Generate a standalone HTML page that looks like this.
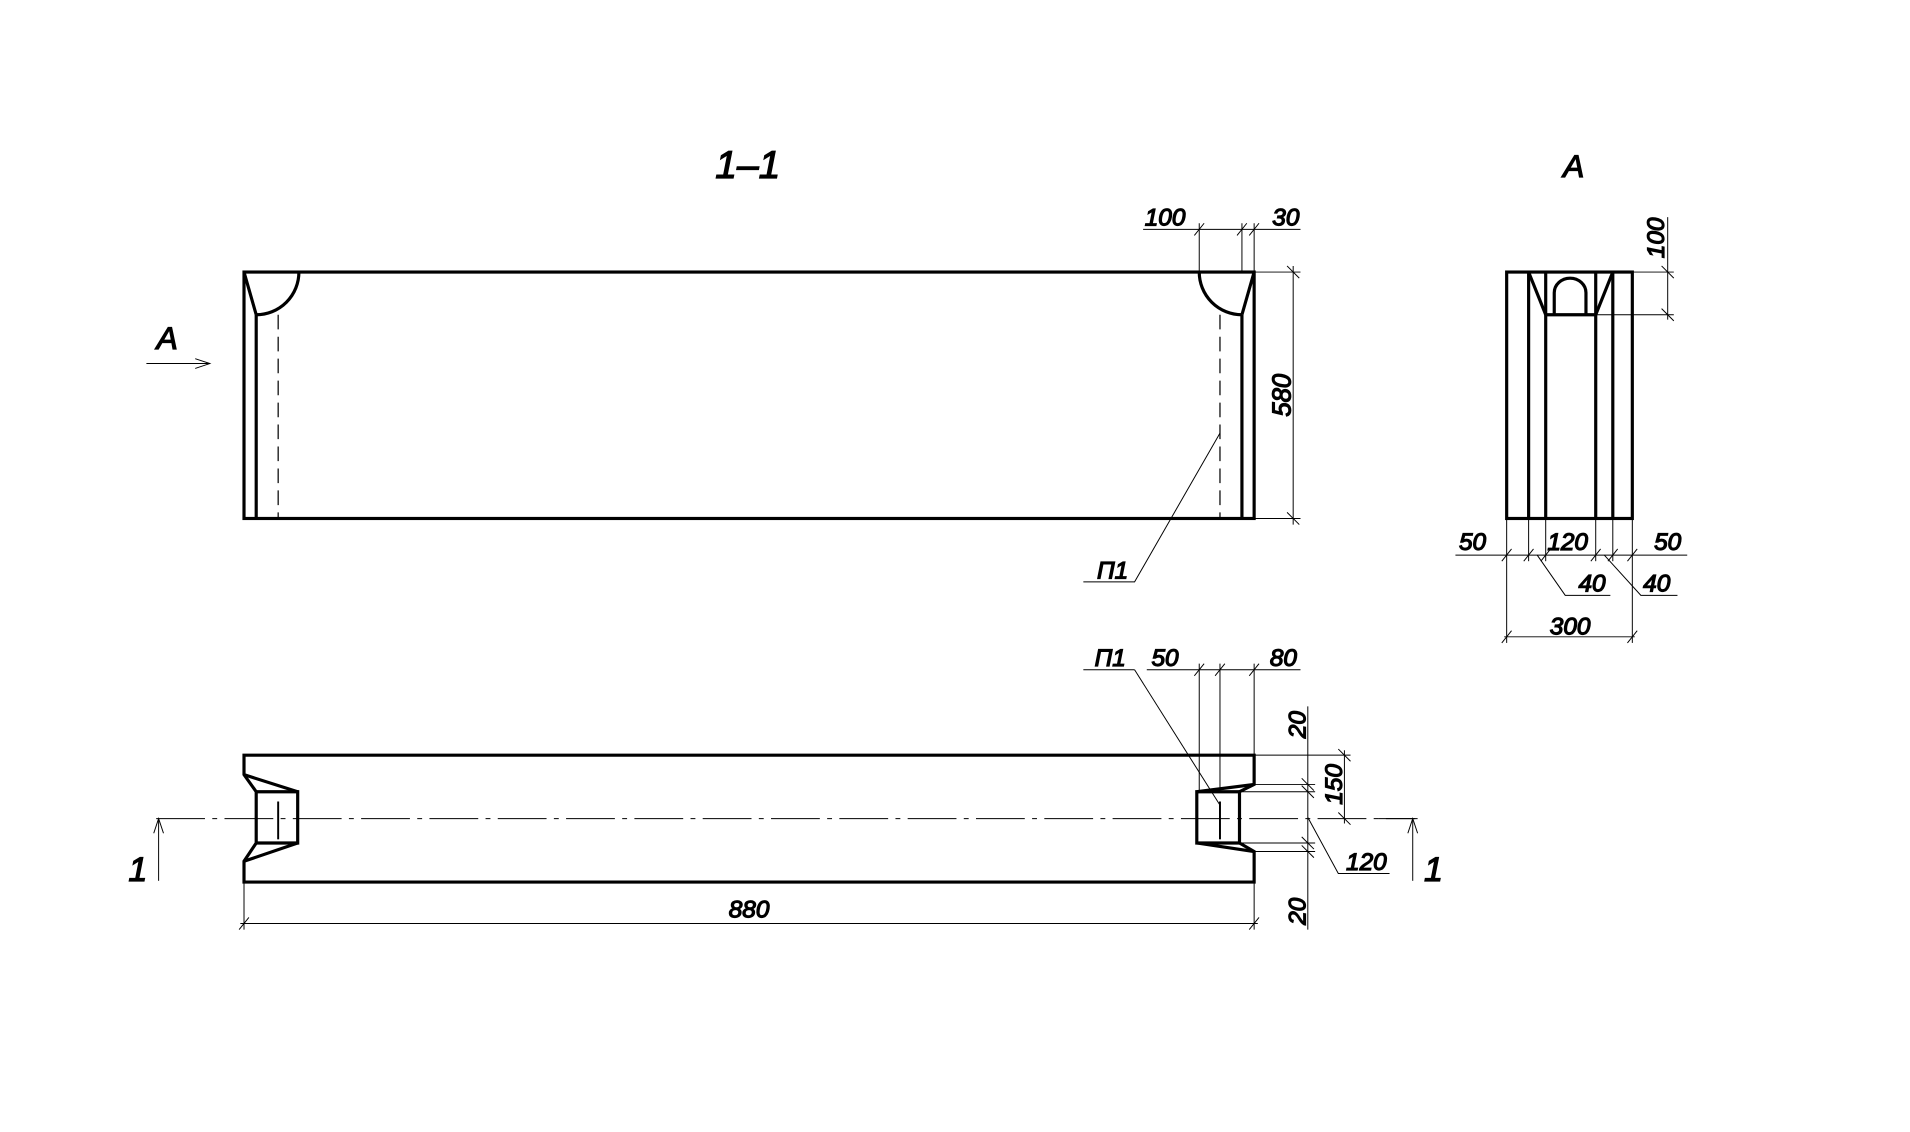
<!DOCTYPE html>
<html><head><meta charset="utf-8"><style>
html,body{margin:0;padding:0;background:#fff;}
svg{display:block;}
text{font-family:"Liberation Sans",sans-serif;font-style:italic;fill:#000;}
</style></head><body>
<svg width="1910" height="1132" viewBox="0 0 1565.6 927.9" xmlns="http://www.w3.org/2000/svg">
<g fill="none" stroke="#000" stroke-linecap="butt">
<!-- ===== Section 1-1 ===== -->
<g stroke-width="2.6">
<rect x="200" y="223" width="828" height="202"/>
<line x1="210" y1="258" x2="210" y2="425"/>
<line x1="1018" y1="258" x2="1018" y2="425"/>
<path d="M200 223 L210 258"/>
<path d="M1028 223 L1018 258"/>
<path d="M245 223 A35 35 0 0 1 210 258"/>
<path d="M983 223 A35 35 0 0 0 1018 258"/>
</g>
<g stroke-width="1" stroke-dasharray="12,6">
<line x1="228" y1="258" x2="228" y2="425"/>
<line x1="1000" y1="258" x2="1000" y2="425"/>
</g>
<g stroke-width="0.8">
<!-- 100/30 -->
<line x1="937" y1="188" x2="1066" y2="188"/>
<line x1="983" y1="183" x2="983" y2="223"/>
<line x1="1018" y1="183" x2="1018" y2="223"/>
<line x1="1028" y1="183" x2="1028" y2="223"/>
<line x1="979" y1="193" x2="987" y2="183"/><line x1="1014" y1="193" x2="1022" y2="183"/><line x1="1024" y1="193" x2="1032" y2="183"/>
<!-- 580 -->
<line x1="1028" y1="223" x2="1066" y2="223"/>
<line x1="1028" y1="425" x2="1066" y2="425"/>
<line x1="1060" y1="218" x2="1060" y2="430"/>
<line x1="1055" y1="218" x2="1065" y2="228"/><line x1="1055" y1="420" x2="1065" y2="430"/>
<!-- P1 leader -->
<polyline points="1000,355 930,477 888,477"/>
<!-- A arrow -->
<line x1="120" y1="298" x2="172" y2="298"/>
<polyline points="160,294 172,298 160,302"/>
</g>
<text x="613" y="146" font-size="32" text-anchor="middle">1–1</text>
<text x="137" y="286" font-size="26" text-anchor="middle">A</text>
<text x="955" y="185" font-size="20" text-anchor="middle">100</text>
<text x="1054" y="185" font-size="20" text-anchor="middle">30</text>
<text transform="translate(1058,324) rotate(-90)" font-size="21" text-anchor="middle">580</text>
<text x="912" y="474" font-size="20" text-anchor="middle">П1</text>

<!-- ===== View A ===== -->
<g stroke-width="2.6">
<rect x="1235" y="223" width="103" height="202"/>
<line x1="1253" y1="223" x2="1253" y2="425"/>
<line x1="1267" y1="258" x2="1267" y2="425"/>
<line x1="1308" y1="223" x2="1308" y2="425"/>
<line x1="1322" y1="223" x2="1322" y2="425"/>
<line x1="1253" y1="223" x2="1267" y2="258"/>
<line x1="1322" y1="223" x2="1308" y2="258"/>
<line x1="1267" y1="258" x2="1308" y2="258"/>
<line x1="1267" y1="223" x2="1267" y2="258"/>
<path d="M1274 258 L1274 240 A13 12 0 0 1 1300 240 L1300 258"/>
</g>
<g stroke-width="0.8">
<line x1="1338" y1="223" x2="1372" y2="223"/>
<line x1="1308" y1="258" x2="1372" y2="258"/>
<line x1="1367" y1="178" x2="1367" y2="262"/>
<line x1="1362" y1="218" x2="1372" y2="228"/><line x1="1362" y1="253" x2="1372" y2="263"/>
<line x1="1193" y1="455" x2="1383" y2="455"/>
<line x1="1235" y1="425" x2="1235" y2="527"/>
<line x1="1253" y1="425" x2="1253" y2="460"/>
<line x1="1267" y1="425" x2="1267" y2="460"/>
<line x1="1308" y1="425" x2="1308" y2="460"/>
<line x1="1322" y1="425" x2="1322" y2="460"/>
<line x1="1338" y1="425" x2="1338" y2="527"/>
<line x1="1231" y1="460" x2="1239" y2="450"/><line x1="1249" y1="460" x2="1257" y2="450"/><line x1="1263" y1="460" x2="1271" y2="450"/><line x1="1304" y1="460" x2="1312" y2="450"/><line x1="1318" y1="460" x2="1326" y2="450"/><line x1="1334" y1="460" x2="1342" y2="450"/>
<polyline points="1260,455 1283,488 1320,488"/>
<polyline points="1315,455 1345,488 1375,488"/>
<line x1="1233" y1="522" x2="1340" y2="522"/>
<line x1="1231" y1="527" x2="1239" y2="517"/><line x1="1334" y1="527" x2="1342" y2="517"/>
</g>
<text x="1290" y="145" font-size="26" text-anchor="middle">A</text>
<text transform="translate(1364,195) rotate(-90)" font-size="20" text-anchor="middle">100</text>
<text x="1207" y="451" font-size="20" text-anchor="middle">50</text>
<text x="1285" y="451" font-size="20" text-anchor="middle">120</text>
<text x="1367" y="451" font-size="20" text-anchor="middle">50</text>
<text x="1305" y="485" font-size="20" text-anchor="middle">40</text>
<text x="1358" y="485" font-size="20" text-anchor="middle">40</text>
<text x="1287" y="520" font-size="20" text-anchor="middle">300</text>

<!-- ===== Plan ===== -->
<g stroke-width="2.6">
<path d="M200 619 L1028 619 L1028 643 L1016 649 L1016 691 L1028 698 L1028 723 L200 723 L200 706 L210 691 L210 649 L200 635 Z"/>
<path d="M210 649 L244 649 L244 691 L210 691"/>
<path d="M200 635 L244 649 M200 706 L244 691"/>
<path d="M1016 649 L981 649 L981 691 L1016 691"/>
<path d="M1028 643 L981 649 M1028 698 L981 691"/>
<line x1="228" y1="657" x2="228" y2="688" stroke-width="1.6"/>
<line x1="1000" y1="657" x2="1000" y2="688" stroke-width="1.6"/>
</g>
<g stroke-width="0.8">
<line x1="128" y1="671" x2="1160" y2="671" stroke-dasharray="40,6,4,6"/>
<line x1="130" y1="671" x2="130" y2="722"/>
<polyline points="126,683 130,671 134,683"/>
<line x1="1130" y1="671" x2="1162" y2="671"/>
<line x1="1158" y1="671" x2="1158" y2="722"/>
<polyline points="1154,683 1158,671 1162,683"/>
<!-- 880 -->
<line x1="197" y1="757" x2="1031" y2="757"/>
<line x1="200" y1="723" x2="200" y2="762"/>
<line x1="1028" y1="723" x2="1028" y2="762"/>
<line x1="196" y1="762" x2="204" y2="752"/><line x1="1024" y1="762" x2="1032" y2="752"/>
<!-- top dims -->
<line x1="888" y1="549" x2="930" y2="549"/>
<line x1="940" y1="549" x2="1066" y2="549"/>
<polyline points="930,549 1000,660"/>
<line x1="983" y1="544" x2="983" y2="649"/>
<line x1="1000" y1="544" x2="1000" y2="649"/>
<line x1="1028" y1="544" x2="1028" y2="619"/>
<line x1="979" y1="554" x2="987" y2="544"/><line x1="996" y1="554" x2="1004" y2="544"/><line x1="1024" y1="554" x2="1032" y2="544"/>
<!-- right dims -->
<line x1="1028" y1="619" x2="1107" y2="619"/>
<line x1="1028" y1="643" x2="1078" y2="643"/>
<line x1="1016" y1="649" x2="1078" y2="649"/>
<line x1="1016" y1="691" x2="1078" y2="691"/>
<line x1="1028" y1="698" x2="1078" y2="698"/>
<line x1="1072" y1="579" x2="1072" y2="762"/>
<line x1="1102" y1="615" x2="1102" y2="675"/>
<line x1="1097" y1="614" x2="1107" y2="624"/><line x1="1097" y1="666" x2="1107" y2="676"/>
<line x1="1067" y1="638" x2="1077" y2="648"/><line x1="1067" y1="644" x2="1077" y2="654"/>
<line x1="1067" y1="686" x2="1077" y2="696"/><line x1="1067" y1="693" x2="1077" y2="703"/>
<polyline points="1072,670 1097,716 1139,716"/>
</g>
<text x="113" y="722" font-size="28" text-anchor="middle">1</text>
<text x="1175" y="722" font-size="28" text-anchor="middle">1</text>
<text x="614" y="752" font-size="20" text-anchor="middle">880</text>
<text x="910" y="546" font-size="20" text-anchor="middle">П1</text>
<text x="955" y="546" font-size="20" text-anchor="middle">50</text>
<text x="1052" y="546" font-size="20" text-anchor="middle">80</text>
<text transform="translate(1070,594) rotate(-90)" font-size="20" text-anchor="middle">20</text>
<text transform="translate(1100,643) rotate(-90)" font-size="20" text-anchor="middle">150</text>
<text transform="translate(1070,747) rotate(-90)" font-size="20" text-anchor="middle">20</text>
<text x="1120" y="713" font-size="20" text-anchor="middle">120</text>
</g>
</svg>
</body></html>
